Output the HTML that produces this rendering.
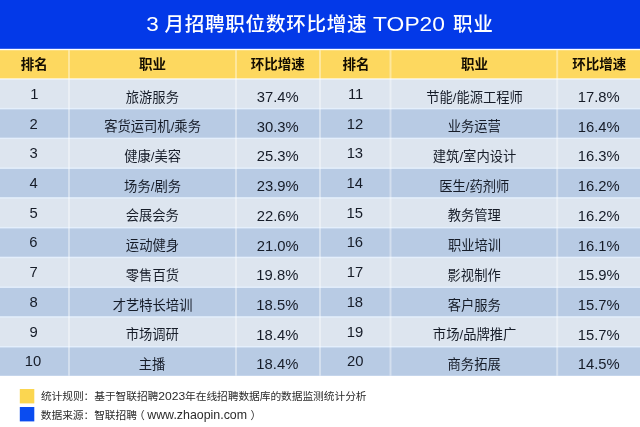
<!DOCTYPE html>
<html lang="zh-CN">
<head>
<meta charset="utf-8">
<title>3 月招聘职位数环比增速 TOP20 职业</title>
<style>
html,body{margin:0;padding:0;background:#fff;}
html{overflow:hidden;}
body{width:640px;height:427px;overflow:hidden;position:relative;font-family:"Liberation Sans",sans-serif;}
#clip{position:absolute;left:0;top:0;width:640px;height:427px;overflow:hidden;}
#stage{position:absolute;left:0;top:0;width:640px;height:427px;filter:blur(0.5px);}
#art{position:absolute;left:-10px;top:-10px;width:660px;height:447px;display:block;}
.h{position:absolute;white-space:nowrap;overflow:hidden;color:transparent;margin:0;font-weight:normal;line-height:1.2;font-family:"Liberation Sans",sans-serif;}
</style>
</head>
<body>
<div id="clip">
<div id="stage">
<svg id="art" width="660" height="447" viewBox="-10 -10 660 447">
<rect x="-10" y="-10" width="660" height="447" fill="#ffffff"/>
<rect x="-10" y="-10" width="660" height="58.8" fill="#0339E8"/>
<rect x="-10" y="50.2" width="660" height="28.200000000000003" fill="#FDD85F"/>
<rect x="-10" y="79.6" width="660" height="296.14" fill="#E4EFFC"/>
<rect x="-10" y="79.60" width="660" height="28.3" fill="#DDE5EF"/>
<rect x="-10" y="109.36" width="660" height="28.3" fill="#B8CBE4"/>
<rect x="-10" y="139.12" width="660" height="28.3" fill="#DDE5EF"/>
<rect x="-10" y="168.88" width="660" height="28.3" fill="#B8CBE4"/>
<rect x="-10" y="198.64" width="660" height="28.3" fill="#DDE5EF"/>
<rect x="-10" y="228.40" width="660" height="28.3" fill="#B8CBE4"/>
<rect x="-10" y="258.16" width="660" height="28.3" fill="#DDE5EF"/>
<rect x="-10" y="287.92" width="660" height="28.3" fill="#B8CBE4"/>
<rect x="-10" y="317.68" width="660" height="28.3" fill="#DDE5EF"/>
<rect x="-10" y="347.44" width="660" height="28.3" fill="#B8CBE4"/>
<rect x="68.00" y="50.2" width="2" height="325.54" fill="#ffffff" fill-opacity="0.38"/>
<rect x="235.00" y="50.2" width="2" height="325.54" fill="#ffffff" fill-opacity="0.38"/>
<rect x="319.00" y="50.2" width="2" height="325.54" fill="#ffffff" fill-opacity="0.38"/>
<rect x="389.50" y="50.2" width="2" height="325.54" fill="#ffffff" fill-opacity="0.38"/>
<rect x="556.20" y="50.2" width="2" height="325.54" fill="#ffffff" fill-opacity="0.38"/>
<rect x="19.8" y="389" width="14.5" height="14.4" fill="#FBD650"/>
<rect x="19.8" y="407" width="14.5" height="14.4" fill="#0A4CF0"/>
<g font-family="&quot;Liberation Sans&quot;, &quot;Noto Sans CJK SC&quot;, sans-serif" fill="#ffffff" font-weight="500">
<text x="164.44" y="31.05" font-size="19.6" letter-spacing="0.7">月招聘职位数环比增速</text>
<text x="146.15" y="31.29" font-size="20.4" textLength="12.5" lengthAdjust="spacingAndGlyphs">3</text>
<text x="373.10" y="31.29" font-size="20.4" textLength="71.9" lengthAdjust="spacingAndGlyphs">TOP20</text>
<text x="452.98" y="31.05" font-size="19.6" letter-spacing="0.7">职业</text>
</g>
<g font-family="&quot;Liberation Sans&quot;, &quot;Noto Sans CJK SC&quot;, sans-serif" fill="#140d02" font-weight="700" font-size="13.5">
<text x="20.76" y="68.98">排名</text>
<text x="138.94" y="68.98">职业</text>
<text x="250.82" y="68.98">环比增速</text>
<text x="342.51" y="68.98">排名</text>
<text x="460.94" y="68.98">职业</text>
<text x="572.22" y="68.98">环比增速</text>
</g>
<g font-family="&quot;Liberation Sans&quot;, &quot;Noto Sans CJK SC&quot;, sans-serif" fill="#161c28">
<text x="30.27" y="98.79" font-size="14.8">1</text>
<text x="125.76" y="101.60" font-size="13.3">旅游服务</text>
<text x="256.80" y="101.94" font-size="14.8">37.4%</text>
<text x="29.38" y="128.51" font-size="14.8">2</text>
<text x="104.18" y="131.32" font-size="13.3">客货运司机/乘务</text>
<text x="256.80" y="131.66" font-size="14.8">30.3%</text>
<text x="29.43" y="158.23" font-size="14.8">3</text>
<text x="124.15" y="161.04" font-size="13.3">健康/美容</text>
<text x="256.71" y="161.38" font-size="14.8">25.3%</text>
<text x="29.43" y="187.95" font-size="14.8">4</text>
<text x="124.12" y="190.76" font-size="13.3">场务/剧务</text>
<text x="256.71" y="191.10" font-size="14.8">23.9%</text>
<text x="29.40" y="217.67" font-size="14.8">5</text>
<text x="125.68" y="220.48" font-size="13.3">会展会务</text>
<text x="256.71" y="220.82" font-size="14.8">22.6%</text>
<text x="29.33" y="247.39" font-size="14.8">6</text>
<text x="125.86" y="250.20" font-size="13.3">运动健身</text>
<text x="256.71" y="250.54" font-size="14.8">21.0%</text>
<text x="29.38" y="277.11" font-size="14.8">7</text>
<text x="125.83" y="279.92" font-size="13.3">零售百货</text>
<text x="256.37" y="280.26" font-size="14.8">19.8%</text>
<text x="29.38" y="306.83" font-size="14.8">8</text>
<text x="112.67" y="309.64" font-size="13.3">才艺特长培训</text>
<text x="256.37" y="309.98" font-size="14.8">18.5%</text>
<text x="29.39" y="336.55" font-size="14.8">9</text>
<text x="125.63" y="339.36" font-size="13.3">市场调研</text>
<text x="256.37" y="339.70" font-size="14.8">18.4%</text>
<text x="24.85" y="366.27" font-size="14.8">10</text>
<text x="138.79" y="369.08" font-size="13.3">主播</text>
<text x="256.37" y="369.42" font-size="14.8">18.4%</text>
<text x="347.91" y="98.79" font-size="14.8">11</text>
<text x="426.13" y="101.60" font-size="13.3">节能/能源工程师</text>
<text x="577.77" y="101.94" font-size="14.8">17.8%</text>
<text x="346.68" y="128.51" font-size="14.8">12</text>
<text x="447.69" y="131.32" font-size="13.3">业务运营</text>
<text x="577.77" y="131.66" font-size="14.8">16.4%</text>
<text x="346.63" y="158.23" font-size="14.8">13</text>
<text x="432.83" y="161.04" font-size="13.3">建筑/室内设计</text>
<text x="577.77" y="161.38" font-size="14.8">16.3%</text>
<text x="346.52" y="187.95" font-size="14.8">14</text>
<text x="439.17" y="190.76" font-size="13.3">医生/药剂师</text>
<text x="577.77" y="191.10" font-size="14.8">16.2%</text>
<text x="346.62" y="217.67" font-size="14.8">15</text>
<text x="447.70" y="220.48" font-size="13.3">教务管理</text>
<text x="577.77" y="220.82" font-size="14.8">16.2%</text>
<text x="346.63" y="247.39" font-size="14.8">16</text>
<text x="447.95" y="250.20" font-size="13.3">职业培训</text>
<text x="577.77" y="250.54" font-size="14.8">16.1%</text>
<text x="346.68" y="277.11" font-size="14.8">17</text>
<text x="447.58" y="279.92" font-size="13.3">影视制作</text>
<text x="577.77" y="280.26" font-size="14.8">15.9%</text>
<text x="346.63" y="306.83" font-size="14.8">18</text>
<text x="447.73" y="309.64" font-size="13.3">客户服务</text>
<text x="577.77" y="309.98" font-size="14.8">15.7%</text>
<text x="346.66" y="336.55" font-size="14.8">19</text>
<text x="432.85" y="339.36" font-size="13.3">市场/品牌推广</text>
<text x="577.77" y="339.70" font-size="14.8">15.7%</text>
<text x="346.94" y="366.27" font-size="14.8">20</text>
<text x="447.55" y="369.08" font-size="13.3">商务拓展</text>
<text x="577.77" y="369.42" font-size="14.8">14.5%</text>
</g>
<g font-family="&quot;Liberation Sans&quot;, &quot;Noto Sans CJK SC&quot;, sans-serif" fill="#2b2b2b">
<text x="40.90" y="400.38" font-size="10.75" letter-spacing="-0.08">统计规则：基于智联招聘</text>
<text x="158.29" y="400.36" font-size="11.4" textLength="26.9" lengthAdjust="spacingAndGlyphs">2023</text>
<text x="185.08" y="400.38" font-size="10.75" letter-spacing="-0.08">年在线招聘数据库的数据监测统计分析</text>
<text x="40.83" y="419.19" font-size="10.75" letter-spacing="-0.08">数据来源：智联招聘</text>
<text x="133.93" y="419.19" font-size="10.75">（</text>
<text x="147.22" y="419.29" font-size="12.4">www.zhaopin.com</text>
<text x="250.41" y="419.19" font-size="10.75">）</text>
</g>
</svg>
<h1 class="h" style="left:147px;top:12px;font-size:20px;width:345px">3 月招聘职位数环比增速 TOP20 职业</h1>
<span class="h" style="left:20.8px;top:55.8px;font-size:13.5px;width:27.0px">排名</span>
<span class="h" style="left:138.9px;top:55.8px;font-size:13.5px;width:27.0px">职业</span>
<span class="h" style="left:250.8px;top:55.8px;font-size:13.5px;width:54.0px">环比增速</span>
<span class="h" style="left:342.5px;top:55.8px;font-size:13.5px;width:27.0px">排名</span>
<span class="h" style="left:460.9px;top:55.8px;font-size:13.5px;width:27.0px">职业</span>
<span class="h" style="left:572.2px;top:55.8px;font-size:13.5px;width:54.0px">环比增速</span>
<span class="h" style="left:30.3px;top:84.7px;font-size:14.8px;width:8.2px">1</span>
<span class="h" style="left:125.8px;top:88.6px;font-size:13.3px;width:53.2px">旅游服务</span>
<span class="h" style="left:256.8px;top:87.9px;font-size:14.8px;width:42.0px">37.4%</span>
<span class="h" style="left:29.4px;top:114.5px;font-size:14.8px;width:8.2px">2</span>
<span class="h" style="left:104.2px;top:118.3px;font-size:13.3px;width:96.3px">客货运司机/乘务</span>
<span class="h" style="left:256.8px;top:117.6px;font-size:14.8px;width:42.0px">30.3%</span>
<span class="h" style="left:29.4px;top:144.2px;font-size:14.8px;width:8.2px">3</span>
<span class="h" style="left:124.2px;top:148.0px;font-size:13.3px;width:56.4px">健康/美容</span>
<span class="h" style="left:256.7px;top:147.3px;font-size:14.8px;width:42.0px">25.3%</span>
<span class="h" style="left:29.4px;top:173.9px;font-size:14.8px;width:8.2px">4</span>
<span class="h" style="left:124.1px;top:177.7px;font-size:13.3px;width:56.4px">场务/剧务</span>
<span class="h" style="left:256.7px;top:177.0px;font-size:14.8px;width:42.0px">23.9%</span>
<span class="h" style="left:29.4px;top:203.6px;font-size:14.8px;width:8.2px">5</span>
<span class="h" style="left:125.7px;top:207.5px;font-size:13.3px;width:53.2px">会展会务</span>
<span class="h" style="left:256.7px;top:206.8px;font-size:14.8px;width:42.0px">22.6%</span>
<span class="h" style="left:29.3px;top:233.3px;font-size:14.8px;width:8.2px">6</span>
<span class="h" style="left:125.9px;top:237.2px;font-size:13.3px;width:53.2px">运动健身</span>
<span class="h" style="left:256.7px;top:236.5px;font-size:14.8px;width:42.0px">21.0%</span>
<span class="h" style="left:29.4px;top:263.1px;font-size:14.8px;width:8.2px">7</span>
<span class="h" style="left:125.8px;top:266.9px;font-size:13.3px;width:53.2px">零售百货</span>
<span class="h" style="left:256.4px;top:266.2px;font-size:14.8px;width:42.0px">19.8%</span>
<span class="h" style="left:29.4px;top:292.8px;font-size:14.8px;width:8.2px">8</span>
<span class="h" style="left:112.7px;top:296.6px;font-size:13.3px;width:79.8px">才艺特长培训</span>
<span class="h" style="left:256.4px;top:295.9px;font-size:14.8px;width:42.0px">18.5%</span>
<span class="h" style="left:29.4px;top:322.5px;font-size:14.8px;width:8.2px">9</span>
<span class="h" style="left:125.6px;top:326.3px;font-size:13.3px;width:53.2px">市场调研</span>
<span class="h" style="left:256.4px;top:325.6px;font-size:14.8px;width:42.0px">18.4%</span>
<span class="h" style="left:24.8px;top:352.2px;font-size:14.8px;width:16.5px">10</span>
<span class="h" style="left:138.8px;top:356.1px;font-size:13.3px;width:26.6px">主播</span>
<span class="h" style="left:256.4px;top:355.4px;font-size:14.8px;width:42.0px">18.4%</span>
<span class="h" style="left:347.9px;top:84.7px;font-size:14.8px;width:16.5px">11</span>
<span class="h" style="left:426.1px;top:88.6px;font-size:13.3px;width:96.3px">节能/能源工程师</span>
<span class="h" style="left:577.8px;top:87.9px;font-size:14.8px;width:42.0px">17.8%</span>
<span class="h" style="left:346.7px;top:114.5px;font-size:14.8px;width:16.5px">12</span>
<span class="h" style="left:447.7px;top:118.3px;font-size:13.3px;width:53.2px">业务运营</span>
<span class="h" style="left:577.8px;top:117.6px;font-size:14.8px;width:42.0px">16.4%</span>
<span class="h" style="left:346.6px;top:144.2px;font-size:14.8px;width:16.5px">13</span>
<span class="h" style="left:432.8px;top:148.0px;font-size:13.3px;width:83.0px">建筑/室内设计</span>
<span class="h" style="left:577.8px;top:147.3px;font-size:14.8px;width:42.0px">16.3%</span>
<span class="h" style="left:346.5px;top:173.9px;font-size:14.8px;width:16.5px">14</span>
<span class="h" style="left:439.2px;top:177.7px;font-size:13.3px;width:69.7px">医生/药剂师</span>
<span class="h" style="left:577.8px;top:177.0px;font-size:14.8px;width:42.0px">16.2%</span>
<span class="h" style="left:346.6px;top:203.6px;font-size:14.8px;width:16.5px">15</span>
<span class="h" style="left:447.7px;top:207.5px;font-size:13.3px;width:53.2px">教务管理</span>
<span class="h" style="left:577.8px;top:206.8px;font-size:14.8px;width:42.0px">16.2%</span>
<span class="h" style="left:346.6px;top:233.3px;font-size:14.8px;width:16.5px">16</span>
<span class="h" style="left:448.0px;top:237.2px;font-size:13.3px;width:53.2px">职业培训</span>
<span class="h" style="left:577.8px;top:236.5px;font-size:14.8px;width:42.0px">16.1%</span>
<span class="h" style="left:346.7px;top:263.1px;font-size:14.8px;width:16.5px">17</span>
<span class="h" style="left:447.6px;top:266.9px;font-size:13.3px;width:53.2px">影视制作</span>
<span class="h" style="left:577.8px;top:266.2px;font-size:14.8px;width:42.0px">15.9%</span>
<span class="h" style="left:346.6px;top:292.8px;font-size:14.8px;width:16.5px">18</span>
<span class="h" style="left:447.7px;top:296.6px;font-size:13.3px;width:53.2px">客户服务</span>
<span class="h" style="left:577.8px;top:295.9px;font-size:14.8px;width:42.0px">15.7%</span>
<span class="h" style="left:346.7px;top:322.5px;font-size:14.8px;width:16.5px">19</span>
<span class="h" style="left:432.9px;top:326.3px;font-size:13.3px;width:83.0px">市场/品牌推广</span>
<span class="h" style="left:577.8px;top:325.6px;font-size:14.8px;width:42.0px">15.7%</span>
<span class="h" style="left:346.9px;top:352.2px;font-size:14.8px;width:16.5px">20</span>
<span class="h" style="left:447.6px;top:356.1px;font-size:13.3px;width:53.2px">商务拓展</span>
<span class="h" style="left:577.8px;top:355.4px;font-size:14.8px;width:42.0px">14.5%</span>
<p class="h" style="left:41px;top:390px;font-size:11px;width:330px">统计规则：基于智联招聘2023年在线招聘数据库的数据监测统计分析</p>
<p class="h" style="left:41px;top:409px;font-size:11px;width:220px">数据来源：智联招聘（www.zhaopin.com）</p>
</div>
</div>
</body>
</html>
